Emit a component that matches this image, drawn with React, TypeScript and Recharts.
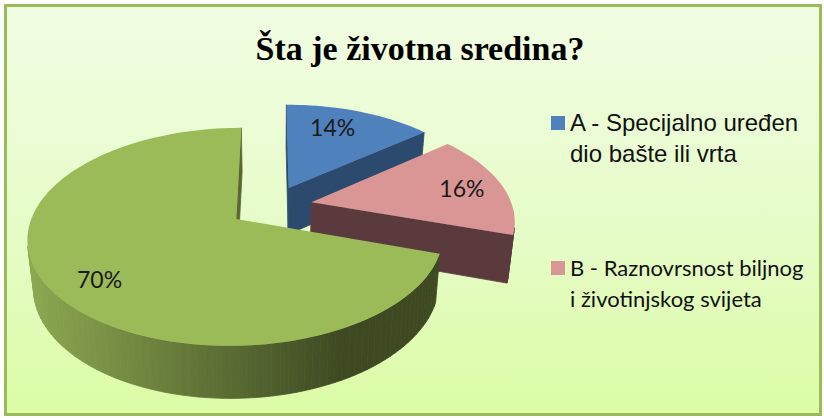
import { Legend, Pie, PieChart } from 'recharts'

const categories = ['A - Specijalno uređen dio bašte ili vrta', 'B - Raznovrsnost biljnog i životinjskog svijeta', 'C']
const values = [14, 16, 70]
const legendLines = [
  ['A - Specijalno uređen', 'dio bašte ili vrta'],
  ['B - Raznovrsnost biljnog', 'i životinjskog svijeta'],
]
const topColors = ['#4f81bd', '#d99694', '#9bbb59']
const sideLight = ['#2c4a6e', '#5a3a3c', '#8ba750']
const sideDark = ['#2c4a6e', '#5a3a3c', '#3e4922']

const pieData = categories.map((name, i) => ({ name, value: values[i], fill: topColors[i] }))

const CX = 272
const CY = 206
const RADIUS = 201
const TILT = 0.507
const PERSPECTIVE = 0.159
const RAD = Math.PI / 180
const explode = [0.2, 0.2, 0.215]
const labelRadius = [0.75, 0.79, 0.79]
const labelTurn = [5, 0, 5]

type Pt = [number, number]

// disc coords (-1..1, y down) -> screen offset from the pie centre
const project = (x: number, y: number): Pt => {
  const w = 1 - PERSPECTIVE * y
  return [(RADIUS * x) / w, (RADIUS * TILT * y) / w]
}
const lower = ([x, y]: Pt): Pt => [x * 0.975, 47 + 1.04 * y]
const toPath = (pts: Pt[], cx: number, cy: number) =>
  'M' + pts.map(([x, y]) => `${(x + cx).toFixed(1)},${(y + cy).toFixed(1)}`).join('L') + 'Z'
const area = (pts: Pt[]) =>
  pts.reduce((sum, p, i) => {
    const n = pts[(i + 1) % pts.length]
    return sum + p[0] * n[1] - n[0] * p[1]
  }, 0)

const Slice3D = (props: any) => {
  const { cx, cy, startAngle, endAngle, index } = props
  const mid = ((startAngle + endAngle) / 2) * RAD
  const ox = Math.cos(mid) * explode[index]
  const oy = -Math.sin(mid) * explode[index]
  const steps = Math.max(8, Math.round(Math.abs(endAngle - startAngle) / 2))
  const edge: Pt[] = [project(ox, oy)]
  for (let s = 0; s <= steps; s++) {
    const a = (startAngle + ((endAngle - startAngle) * s) / steps) * RAD
    edge.push(project(ox + Math.cos(a), oy - Math.sin(a)))
  }
  const gradId = `rim-${index}`
  const sides = edge.map((p, i) => {
    const n = edge[(i + 1) % edge.length]
    const quad = [p, n, lower(n), lower(p)]
    if (area(quad) >= 0) return null
    return <path key={i} d={toPath(quad, cx, cy)} fill={`url(#${gradId})`} stroke={`url(#${gradId})`} strokeWidth={0.8} />
  })
  return (
    <g>
      <defs>
        <linearGradient id={gradId} gradientUnits="userSpaceOnUse" x1={cx - 240} x2={cx + 70} y1={0} y2={0}>
          <stop offset="0" stopColor={sideLight[index]} />
          <stop offset="1" stopColor={sideDark[index]} />
        </linearGradient>
      </defs>
      {sides}
      <path d={toPath(edge, cx, cy)} fill={topColors[index]} />
    </g>
  )
}

const sliceLabel = (props: any) => {
  const { cx, cy, midAngle, percent, index } = props
  const a = (midAngle + labelTurn[index]) * RAD
  const r = labelRadius[index]
  const ox = Math.cos(midAngle * RAD) * explode[index]
  const oy = -Math.sin(midAngle * RAD) * explode[index]
  const [x, y] = project(ox + Math.cos(a) * r, oy - Math.sin(a) * r)
  return (
    <text
      x={x + cx}
      y={y + cy}
      textAnchor="middle"
      dominantBaseline="central"
      fontFamily="Lato, 'Open Sans', sans-serif"
      fontSize={23}
      fill="#1a1a1a"
    >
      {`${Math.round(percent * 100)}%`}
    </text>
  )
}

const LegendBox = ({ payload }: any) => (
  <div>
    {legendLines.map((lines, i) => (
      <div
        key={i}
        style={{
          position: 'absolute',
          left: 0,
          top: i === 0 ? 0 : 145,
          paddingLeft: 19,
          fontFamily: i === 0 ? "'Liberation Sans', sans-serif" : 'Lato, sans-serif',
          fontSize: i === 0 ? 24 : 22,
          lineHeight: '31px',
          color: '#111',
          whiteSpace: 'nowrap',
        }}
      >
        <span
          style={{
            position: 'absolute',
            left: 0,
            top: 9,
            width: 14,
            height: 14,
            background: payload?.[i]?.color ?? topColors[i],
          }}
        />
        {lines.map((l) => (
          <div key={l}>{l}</div>
        ))}
      </div>
    ))}
  </div>
)

export default function App() {
  return (
    <div style={{ position: 'absolute', left: 0, top: 0, width: 824, height: 418, background: '#fff' }}>
      <div
        style={{
          position: 'absolute',
          left: 4,
          top: 4,
          width: 812,
          height: 406,
          border: '3px solid #9bbb59',
          background: 'linear-gradient(180deg, #f1fde3 0%, #e6fcc8 55%, #dcfca6 100%)',
        }}
      />
      <PieChart width={824} height={418} margin={{ top: 0, right: 0, bottom: 0, left: 0 }} style={{ position: 'absolute', left: 0, top: 0 }}>
        <text
          x={420}
          y={60}
          textAnchor="middle"
          fontFamily="'Liberation Serif', serif"
          fontWeight="bold"
          fontSize={34}
          fill="#000"
        >
          Šta je životna sredina?
        </text>
        <Pie
          data={pieData}
          dataKey="value"
          nameKey="name"
          cx={CX}
          cy={CY}
          innerRadius={0}
          outerRadius={RADIUS}
          startAngle={90}
          endAngle={-270}
          stroke="none"
          shape={Slice3D}
          label={sliceLabel}
          labelLine={false}
          isAnimationActive={false}
        />
        <Legend
          content={<LegendBox />}
          wrapperStyle={{ position: 'absolute', left: 551, top: 107, width: 270, height: 200 }}
        />
      </PieChart>
    </div>
  )
}
